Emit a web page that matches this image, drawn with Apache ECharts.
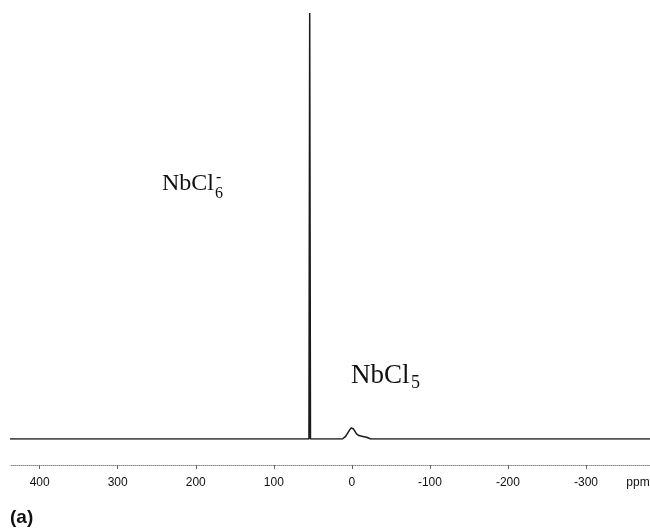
<!DOCTYPE html>
<html>
<head>
<meta charset="utf-8">
<script src="https://cdn.jsdelivr.net/npm/echarts@6/dist/echarts.min.js"></script>
<style>
	html, body { margin:0; padding:0; background:#fff; }
	#main { width:650px; height:529px; }
</style>
</head>
<body>
<div id="main"></div>
<script>
// tick labels on the ppm axis
var tickLabels = [400, 300, 200, 100, 0, -100, -200, -300];

// spectrum: chemical shift (ppm) and relative intensity
var shifts =      [438, 60, 55, 54, 53, 48, 12, 8, 4, 1, -2, -6, -9, -14, -19, -24, -382];
var intensities = [0, 0, 0, 100, 0, 0, 0, 0.6, 1.8, 2.6, 2.4, 1.2, 0.8, 0.6, 0.4, 0, 0];

var spectrum = [];
for( var i = 0; i < shifts.length; i++ ){
	spectrum.push( [shifts[i], intensities[i]] );
}

var serif = '"Liberation Serif", "Times New Roman", serif';
var sans = '"Liberation Sans", Arial, sans-serif';

var textEl = function(x, y, text, size, family, weight, align){
	return {
		type:'text',
		style:{
			x:x,
			y:y,
			text:text,
			fill:'#111',
			font:( weight || 'normal' ) + ' ' + size + 'px ' + family,
			textAlign:align || 'left',
			textVerticalAlign:'middle'
		}
	};
};

var chart = echarts.init( document.getElementById( 'main' ) );

chart.setOption( {
	animation:false,
	grid:{
		left:10,
		right:0,
		top:13,
		bottom:90
	},
	xAxis:{
		type:'value',
		min:-382,
		max:438,
		inverse:true,
		offset:26,
		axisLine:{
			onZero:false,
			lineStyle:{ color:'#888', type:'dotted', width:1 }
		},
		axisTick:{
			customValues:tickLabels,
			length:4,
			lineStyle:{ color:'#666' }
		},
		axisLabel:{
			customValues:tickLabels,
			margin:12,
			color:'#111',
			fontSize:12,
			fontFamily:sans
		},
		splitLine:{ show:false }
	},
	yAxis:{
		type:'value',
		min:0,
		max:100,
		show:false
	},
	series:[
		{
			type:'line',
			data:spectrum,
			symbol:'none',
			lineStyle:{ color:'#1a1a1a', width:1.5 }
		}
	],
	graphic:[
		textEl( 162, 184, 'NbCl', 24, serif ),
		textEl( 215, 194, '6', 16, serif ),
		textEl( 216, 178, '-', 16, serif ),
		textEl( 351, 376, 'NbCl', 27, serif ),
		textEl( 411, 383, '5', 18, serif ),
		textEl( 638, 483, 'ppm', 12, sans, 'normal', 'center' ),
		textEl( 10, 518, '(a)', 19, sans, 'bold' )
	]
} );
</script>
</body>
</html>
